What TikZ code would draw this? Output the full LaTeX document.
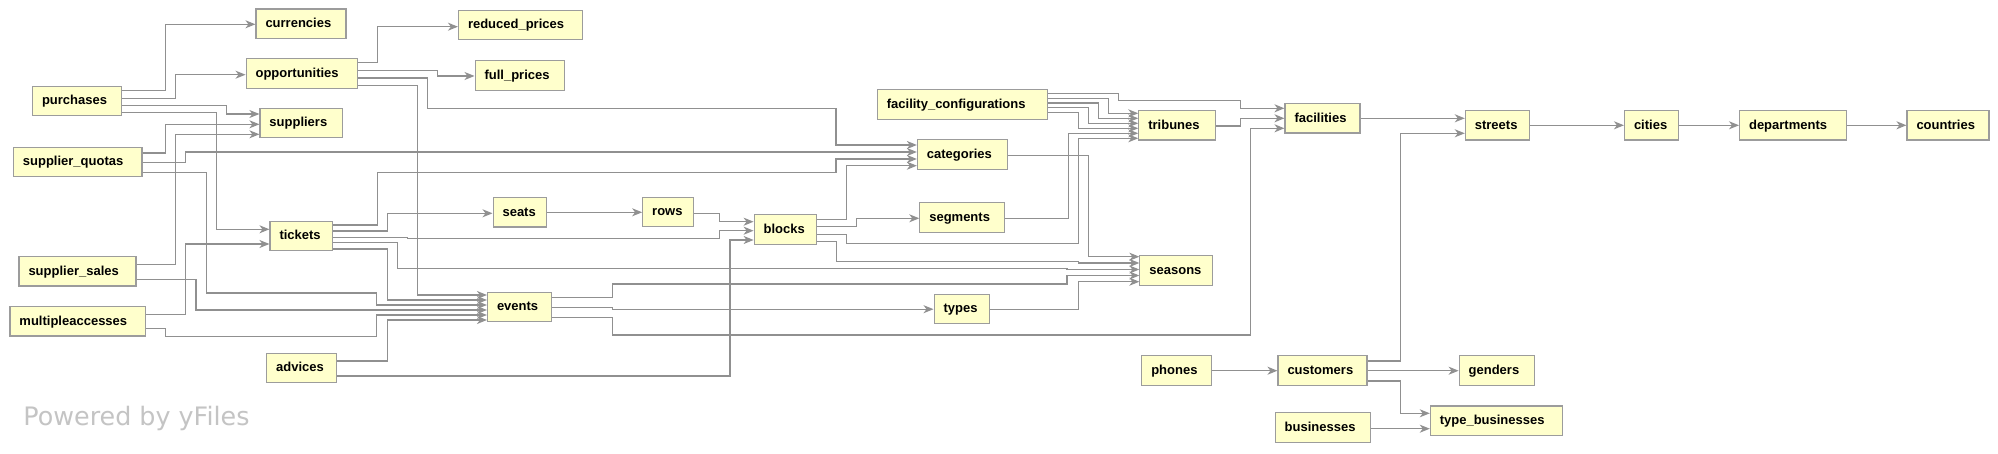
\documentclass[tikz,border=0pt]{standalone}
\usepackage{fontspec}
\setmainfont{Liberation Sans}
\newfontfamily\wmfont{DejaVu Sans}
\usetikzlibrary{arrows.meta}
\definecolor{boxfill}{HTML}{FFFFCC}
\definecolor{boxline}{HTML}{9C9C9C}
\definecolor{edgecol}{HTML}{909090}
\definecolor{wmcol}{HTML}{C4C4C4}
\newcommand\boxtext[2]{\hbox to \dimexpr#1pt-19pt\relax{#2\hss}}
\begin{document}
\begin{tikzpicture}[x=1pt,y=-1pt,
  tbl/.style={draw=boxline, fill=boxfill, line width=1.1pt, rectangle, inner xsep=9.5pt, inner ysep=0pt,
    minimum height=29.5pt, text height=9.3pt, text depth=1.7pt, font=\fontsize{13}{15}\selectfont\bfseries},
  fk/.style={draw=edgecol, line width=1.15pt, -{Stealth[length=10pt,width=8pt,inset=3pt]}},
]
\fill[white] (0,0) rectangle (1998,454);
\useasboundingbox (0,0) rectangle (1998,454);

% nodes
\node[tbl] (currencies) at (301,23.8) {\boxtext{90}{currencies}};
\node[tbl] (reducedprices) at (520.5,25) {\boxtext{124}{reduced\_prices}};
\node[tbl] (opportunities) at (301.6,73.7) {\boxtext{111}{opportunities}};
\node[tbl] (fullprices) at (519.8,75.5) {\boxtext{89.5}{full\_prices}};
\node[tbl] (purchases) at (77,101) {\boxtext{89}{purchases}};
\node[tbl] (suppliers) at (301.2,123) {\boxtext{82.5}{suppliers}};
\node[tbl] (supplierquotas) at (77.7,162) {\boxtext{128.6}{supplier\_quotas}};
\node[tbl] (seats) at (519.8,212.3) {\boxtext{53.5}{seats}};
\node[tbl] (tickets) at (301.3,236.2) {\boxtext{62.6}{tickets}};
\node[tbl] (suppliersales) at (77.5,271.3) {\boxtext{117}{supplier\_sales}};
\node[tbl] (multipleaccesses) at (77.7,321.3) {\boxtext{135.4}{multipleaccesses}};
\node[tbl] (events) at (519.7,307.2) {\boxtext{64.4}{events}};
\node[tbl] (advices) at (301.7,368) {\boxtext{70}{advices}};
\node[tbl] (rows) at (668.2,212.2) {\boxtext{51}{rows}};
\node[tbl] (blocks) at (785.4,229.5) {\boxtext{62.5}{blocks}};
\node[tbl] (fc) at (962.5,104.7) {\boxtext{170.3}{facility\_configurations}};
\node[tbl] (categories) at (962.4,154.7) {\boxtext{90}{categories}};
\node[tbl] (segments) at (962.3,217.5) {\boxtext{85}{segments}};
\node[tbl] (types) at (961.8,309.2) {\boxtext{55.5}{types}};
\node[tbl] (tribunes) at (1177,125.3) {\boxtext{76.4}{tribunes}};
\node[tbl] (seasons) at (1176.4,270.7) {\boxtext{73}{seasons}};
\node[tbl] (phones) at (1176.4,370.7) {\boxtext{69.3}{phones}};
\node[tbl] (facilities) at (1322.5,118.3) {\boxtext{75}{facilities}};
\node[tbl] (customers) at (1322.5,370.7) {\boxtext{89}{customers}};
\node[tbl] (businesses) at (1322.7,427.3) {\boxtext{95}{businesses}};
\node[tbl] (streets) at (1497.5,125.3) {\boxtext{64.3}{streets}};
\node[tbl] (genders) at (1497,370.7) {\boxtext{75.7}{genders}};
\node[tbl] (typebusinesses) at (1496.5,420.7) {\boxtext{132.4}{type\_businesses}};
\node[tbl] (cities) at (1651.5,125.3) {\boxtext{54}{cities}};
\node[tbl] (departments) at (1792.8,125.3) {\boxtext{106.5}{departments}};
\node[tbl] (countries) at (1948,125.3) {\boxtext{82}{countries}};

\node[anchor=base west, inner sep=0pt, text=wmcol, font=\wmfont\fontsize{25.4}{30}\selectfont] (wm) at (23.2,425) {Powered by yFiles};

% purchases
\draw[fk] (purchases.east |- 0,90.7) -| (165.3,24.3) -- (currencies.west |- 0,24.3);
\draw[fk] (purchases.east |- 0,98.3) -| (175.3,74.7) -- (opportunities.west |- 0,74.7);
\draw[fk] (purchases.east |- 0,105.7) -| (226.6,114) -- (suppliers.west |- 0,114);
\draw[fk] (purchases.east |- 0,112.7) -| (216.2,229.3) -- (tickets.west |- 0,229.3);
% opportunities
\draw[fk] (opportunities.east |- 0,62.7) -| (377.7,26.7) -- (reducedprices.west |- 0,26.7);
\draw[fk] (opportunities.east |- 0,70.3) -| (437.4,76) -- (fullprices.west |- 0,76);
\draw[fk] (opportunities.east |- 0,78) -| (427.5,108.3) -| (836,145) -- (categories.west |- 0,145);
\draw[fk] (opportunities.east |- 0,85.3) -| (417.3,295) -- (events.west |- 0,295);
% supplier_quotas
\draw[fk] (supplierquotas.east |- 0,153) -| (165.3,124.3) -- (suppliers.west |- 0,124.3);
\draw[fk] (supplierquotas.east |- 0,162.7) -| (185.6,152) -- (categories.west |- 0,152);
\draw[fk] (supplierquotas.east |- 0,172.7) -| (206.7,293) -| (376.7,305) -- (events.west |- 0,305);
% supplier_sales
\draw[fk] (suppliersales.east |- 0,264.3) -| (175.3,134.3) -- (suppliers.west |- 0,134.3);
\draw[fk] (suppliersales.east |- 0,279.3) -| (196,310) -- (events.west |- 0,310);
% multipleaccesses
\draw[fk] (multipleaccesses.east |- 0,314.3) -| (185.6,244) -- (tickets.west |- 0,244);
\draw[fk] (multipleaccesses.east |- 0,328.3) -| (165.3,336.7) -| (376.7,315) -- (events.west |- 0,315);
% advices
\draw[fk] (advices.east |- 0,361) -| (387.3,320) -- (events.west |- 0,320);
\draw[fk] (advices.east |- 0,376) -| (730,240) -- (blocks.west |- 0,240);
% tickets
\draw[fk] (tickets.east |- 0,225) -| (377.3,172.3) -| (836,159) -- (categories.west |- 0,159);
\draw[fk] (tickets.east |- 0,231) -| (387.3,213.3) -- (seats.west |- 0,213.3);
\draw[fk] (tickets.east |- 0,237.3) -| (407.3,238.3) -| (719.3,230.7) -- (blocks.west |- 0,230.7);
\draw[fk] (tickets.east |- 0,242.7) -| (397.3,268.3) -| (1067,269.5) -- (seasons.west |- 0,269.5);
\draw[fk] (tickets.east |- 0,249) -| (387.3,300) -- (events.west |- 0,300);
% seats, rows
\draw[fk] (seats.east) -- (rows.west |- seats.east);
\draw[fk] (rows.east |- 0,213.3) -| (719.3,221.7) -- (blocks.west |- 0,221.7);
% blocks
\draw[fk] (blocks.east |- 0,219.3) -| (846.7,165.7) -- (categories.west |- 0,165.7);
\draw[fk] (blocks.east |- 0,226.7) -| (856.7,218.3) -- (segments.west |- 0,218.3);
\draw[fk] (blocks.east |- 0,234.3) -| (846.7,243.3) -| (1078.3,138.3) -- (tribunes.west |- 0,138.3);
\draw[fk] (blocks.east |- 0,241.7) -| (836.7,261.7) -| (1078.3,263) -- (seasons.west |- 0,263);
% segments
\draw[fk] (segments.east |- 0,218.3) -| (1068.3,133.3) -- (tribunes.west |- 0,133.3);
% categories
\draw[fk] (categories.east |- 0,155.7) -| (1088.3,256.7) -- (seasons.west |- 0,256.7);
% events
\draw[fk] (events.east |- 0,297.3) -| (612.5,284) -| (1067,275.5) -- (seasons.west |- 0,275.5);
\draw[fk] (events.east |- 0,307.3) -| (612.5,309.2) -- (types.west |- 0,309.2);
\draw[fk] (events.east |- 0,317.3) -| (612.5,335) -| (1250.4,128.3) -- (facilities.west |- 0,128.3);
% types
\draw[fk] (types.east |- 0,309.2) -| (1078.3,281.7) -- (seasons.west |- 0,281.7);
% facility_configurations
\draw[fk] (fc.east |- 0,93.3) -| (1118.3,100.7) -| (1240.3,108.3) -- (facilities.west |- 0,108.3);
\draw[fk] (fc.east |- 0,98.3) -| (1108.3,113.3) -- (tribunes.west |- 0,113.3);
\draw[fk] (fc.east |- 0,103) -| (1098.3,118.3) -- (tribunes.west |- 0,118.3);
\draw[fk] (fc.east |- 0,107.7) -| (1088.3,123.3) -- (tribunes.west |- 0,123.3);
\draw[fk] (fc.east |- 0,112.3) -| (1078.3,128.3) -- (tribunes.west |- 0,128.3);
% tribunes
\draw[fk] (tribunes.east |- 0,126) -| (1240.3,118.3) -- (facilities.west |- 0,118.3);
% facilities and onwards
\draw[fk] (facilities.east |- 0,118.3) -- (streets.west |- 0,118.3);
\draw[fk] (customers.east |- 0,361) -| (1400.8,133.3) -- (streets.west |- 0,133.3);
\draw[fk] (streets.east) -- (cities.west);
\draw[fk] (cities.east) -- (departments.west);
\draw[fk] (departments.east) -- (countries.west);
\draw[fk] (phones.east) -- (customers.west);
\draw[fk] (customers.east) -- (genders.west);
\draw[fk] (customers.east |- 0,381) -| (1400.8,413.3) -- (typebusinesses.west |- 0,413.3);
\draw[fk] (businesses.east |- 0,428.7) -- (typebusinesses.west |- 0,428.7);
\end{tikzpicture}
\end{document}
